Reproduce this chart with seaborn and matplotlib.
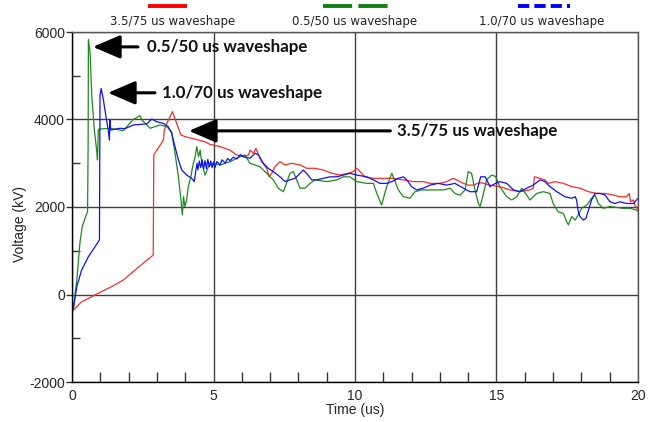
import numpy as np
import pandas as pd
import matplotlib
matplotlib.use('Agg')
import matplotlib.pyplot as plt
from matplotlib.lines import Line2D
from matplotlib.ticker import MultipleLocator
import seaborn as sns

# waveform data (time in us, voltage in kV)
t_red = [0, 0.05, 0.34, 0.58, 0.93, 1.40, 1.81, 2.23, 2.58, 2.87, 2.89, 3.23, 3.26, 3.35,
         3.55, 3.70, 3.85, 3.99, 4.23, 4.47, 4.70, 4.88, 5.23, 5.58, 5.82, 6.05, 6.24, 6.29,
         6.41, 6.50, 6.59, 6.70, 6.88, 6.97, 7.06, 7.17, 7.35, 7.53, 7.76, 8.06, 8.29, 8.59,
         8.88, 9.18, 9.47, 9.76, 9.94, 10.06, 10.18, 10.35, 10.65, 11.00, 11.36, 11.71, 12.06,
         12.41, 12.65, 13.00, 13.24, 13.47, 13.59, 13.83, 14.00, 14.18, 14.42, 14.77, 15.12,
         15.48, 15.83, 16.18, 16.30, 16.34, 16.54, 16.71, 16.83, 17.07, 17.36, 17.66, 17.95,
         18.25, 18.54, 18.83, 19.13, 19.36, 19.60, 19.69, 19.74, 19.84, 19.89, 20.0]
v_red = [-400, -355, -165, -90, 30, 180, 330, 560, 750, 900, 3190, 3530, 3760, 3910,
         4180, 3910, 3645, 3610, 3570, 3530, 3490, 3430, 3380, 3300, 3190, 3150, 3190, 3300,
         3230, 3340, 3190, 3035, 2885, 2690, 2770, 2920, 3035, 2960, 3000, 2960, 2885, 2885,
         2845, 2770, 2730, 2770, 2810, 2885, 2810, 2690, 2655, 2655, 2655, 2620, 2580,
         2580, 2540, 2540, 2580, 2655, 2620, 2540, 2500, 2500, 2560, 2500, 2465,
         2390, 2350, 2390, 2430, 2690, 2655, 2620, 2540, 2580, 2540, 2465, 2430,
         2350, 2310, 2310, 2275, 2235, 2235, 2310, 2120, 2160, 2045, 1930]

t_green = [0, 0.05, 0.17, 0.28, 0.36, 0.48, 0.55, 0.57, 0.58, 0.64, 0.70, 0.79, 0.87, 0.90,
           0.93, 0.95, 1.34, 1.81, 2.15, 2.40, 2.47, 2.76, 3.11, 3.35, 3.46, 3.52, 3.64, 3.76,
           3.85, 3.90, 3.94, 3.99, 4.05, 4.11, 4.20, 4.26, 4.35, 4.41, 4.47, 4.53, 4.58, 4.70,
           4.82, 4.99, 5.23, 5.58, 5.94, 6.10, 6.29, 6.64, 6.88, 7.11, 7.29, 7.47, 7.60, 7.70,
           7.82, 7.94, 8.06, 8.24, 8.41, 8.59, 9.00, 9.36, 9.59, 9.82, 10.06, 10.41, 10.65,
           10.77, 10.94, 11.12, 11.30, 11.42, 11.53, 11.71, 11.94, 12.12, 12.36, 12.60, 12.89,
           13.13, 13.36, 13.53, 13.71, 13.89, 14.00, 14.12, 14.24, 14.36, 14.42, 14.54, 14.65,
           14.83, 14.96, 15.12, 15.36, 15.54, 15.72, 15.89, 16.07, 16.18, 16.42, 16.65, 16.89,
           17.00, 17.18, 17.36, 17.48, 17.54, 17.66, 17.78, 17.89, 18.01, 18.19, 18.36, 18.48,
           18.60, 18.77, 19.01, 19.25, 19.48, 19.72, 19.95, 20.0]
v_green = [-400, -310, 330, 1180, 1550, 1780, 1890, 3500, 5830, 5520, 4520, 3760, 3300, 3075,
           3760, 3780, 3800, 3745, 3990, 4090, 3990, 3800, 3875, 3835, 3760, 3720, 3230, 2690,
           2160, 1820, 2235, 2010, 2160, 2465, 2690, 2920, 3150, 3380, 3150, 3300, 3035, 2730,
           2920, 3000, 2960, 3035, 3150, 3190, 3000, 2920, 2770, 2620, 2430, 2350, 2580, 2770,
           2810, 2620, 2430, 2430, 2540, 2620, 2580, 2620, 2690, 2690, 2580, 2540, 2540,
           2310, 2045, 2465, 2770, 2580, 2390, 2235, 2200, 2350, 2390, 2390, 2390,
           2390, 2430, 2310, 2270, 2390, 2810, 2770, 2390, 2080, 2010, 2310, 2620,
           2730, 2700, 2465, 2235, 2160, 2235, 2430, 2270, 2160, 2310, 2350, 2310,
           2080, 1890, 1855, 1665, 1590, 1780, 1700, 1820, 1970, 2045, 2200, 2275,
           2080, 1970, 2010, 1990, 1970, 1970, 1930, 1900]

t_blue = [0, 0.05, 0.17, 0.34, 0.58, 0.81, 0.97, 0.99, 1.03, 1.11, 1.20, 1.28, 1.32, 1.34,
          1.37, 1.70, 1.87, 2.17, 2.64, 2.82, 2.99, 3.23, 3.40, 3.52, 3.64, 3.76, 3.88, 4.05,
          4.23, 4.32, 4.38, 4.42, 4.45, 4.50, 4.55, 4.60, 4.65, 4.70, 4.75, 4.80, 4.85, 4.90,
          4.95, 5.00, 5.05, 5.12, 5.23, 5.30, 5.41, 5.50, 5.58, 5.70, 5.82, 5.95, 6.05, 6.29,
          6.47, 6.59, 6.76, 6.94, 7.11, 7.35, 7.53, 7.70, 7.88, 8.00, 8.17, 8.29, 8.47, 8.65,
          8.88, 9.12, 9.36, 9.59, 9.82, 10.06, 10.41, 10.65, 10.88, 11.12, 11.30, 11.53, 11.71,
          11.83, 12.00, 12.18, 12.42, 12.65, 12.94, 13.24, 13.53, 13.83, 14.06, 14.30, 14.44,
          14.60, 14.77, 14.96, 15.12, 15.36, 15.60, 15.83, 16.07, 16.30, 16.54, 16.71, 16.89,
          17.13, 17.42, 17.66, 17.78, 17.83, 17.89, 17.95, 18.07, 18.16, 18.25, 18.36, 18.48,
          18.66, 18.83, 19.01, 19.19, 19.36, 19.60, 19.84, 20.0]
v_blue = [-400, -310, 180, 560, 865, 1090, 1245, 4550, 4710, 4450, 4065, 3760, 3530, 3990,
          3760, 3800, 3790, 3875, 3900, 4010, 3950, 3910, 3835, 3685, 3380, 3075, 2845, 2730,
          2655, 2580, 2845, 3000, 2850, 3050, 2900, 3080, 2870, 3060, 2880, 3090, 2920, 3050,
          2900, 3030, 2900, 3040, 2960, 3080, 3000, 3110, 3060, 3140, 3100, 3200, 3150, 3115,
          3230, 3190, 3000, 2880, 2810, 2690, 2580, 2620, 2655, 2730, 2845, 2770, 2620, 2620,
          2655, 2690, 2690, 2730, 2770, 2730, 2690, 2620, 2540, 2540, 2580, 2655, 2690,
          2620, 2465, 2390, 2430, 2500, 2540, 2500, 2540, 2430, 2350, 2350, 2690,
          2690, 2465, 2540, 2580, 2540, 2390, 2350, 2430, 2500, 2620, 2580, 2465,
          2350, 2235, 2200, 2235, 2160, 1890, 1780, 1700, 1740, 1930, 2160, 2310,
          2310, 2275, 2120, 2080, 2120, 2080, 2080, 2200]

labels = ['3.5/75 us waveshape', '0.5/50 us waveshape', '1.0/70 us waveshape']
line_colors = ['#ff2a2a', '#1f8a1f', '#1010ff']
legend_colors = ['#ff0000', '#108010', '#0000ff']

df = pd.concat([
    pd.DataFrame({'Time': t_red, 'Voltage': v_red, 'wave': labels[0]}),
    pd.DataFrame({'Time': t_green, 'Voltage': v_green, 'wave': labels[1]}),
    pd.DataFrame({'Time': t_blue, 'Voltage': v_blue, 'wave': labels[2]}),
], ignore_index=True)

sns.set_style('white')
plt.rcParams['font.family'] = ['Liberation Sans', 'DejaVu Sans']
plt.rcParams['axes.unicode_minus'] = False

fig = plt.figure(figsize=(6.63, 4.22), dpi=100)
ax = fig.add_axes([72 / 663, 1 - 382 / 422, 566 / 663, 350 / 422])

sns.lineplot(data=df, x='Time', y='Voltage', hue='wave', palette=line_colors,
             hue_order=labels, estimator=None, sort=False, legend=False,
             linewidth=0.9, ax=ax)

ax.set_xlim(0, 20)
ax.set_ylim(-2000, 6000)
ax.set_xticks([0, 5, 10, 15, 20])
ax.set_yticks([-2000, 0, 2000, 4000, 6000])
ax.xaxis.set_minor_locator(MultipleLocator(1))
ax.yaxis.set_minor_locator(MultipleLocator(1000))
ax.tick_params(axis='x', which='major', bottom=True, length=0, pad=5, labelsize=10)
ax.tick_params(axis='x', which='minor', bottom=True, direction='in', length=7, width=1,
               color='#333333')
ax.tick_params(axis='y', which='major', left=True, direction='out', length=4, width=1,
               pad=1, labelsize=10, color='#333333')
ax.tick_params(axis='y', which='minor', left=True, direction='in', length=6, width=1,
               color='#333333')
ax.grid(which='major', color='#404040', linewidth=1.0)
for side in ['top', 'right']:
    ax.spines[side].set_color('#555555')
for side in ['left', 'bottom']:
    ax.spines[side].set_color('black')
for s in ax.spines.values():
    s.set_linewidth(1.0)

ax.set_xlabel('Time (us)', fontsize=10, labelpad=0)
ax.set_ylabel('Voltage (kV)', fontsize=10)
ax.yaxis.set_label_coords(-0.08, 0.45)

# annotations with arrows
bold = dict(fontsize=12.2, fontweight='bold', family='Lato', color='#111111', va='center', ha='left')
arrow = dict(arrowstyle='-|>,head_length=1.4,head_width=0.6', color='black', lw=2.2,
             shrinkA=0, shrinkB=0, mutation_scale=12)
ax.annotate('', xy=(0.74, 5660), xytext=(2.33, 5660), arrowprops=arrow)
ax.text(2.65, 5660, '0.5/50 us waveshape', **bold)
ax.annotate('', xy=(1.27, 4610), xytext=(2.93, 4610), arrowprops=arrow)
ax.text(3.18, 4610, '1.0/70 us waveshape', **bold)
ax.annotate('', xy=(4.13, 3740), xytext=(11.25, 3740), arrowprops=arrow)
ax.text(11.48, 3740, '3.5/75 us waveshape', **bold)

# legend above the plot: line sample over label
W, H = 663, 422
samples = [
    (148, 187, '-'),
    (323, 389, (0, (7.5, 1.6))),
    (518, 570, (0, (2.9, 1.3))),
]
text_x = [173, 355, 542]
for (x0, x1, ls), c, lab, tx in zip(samples, legend_colors, labels, text_x):
    fig.add_artist(Line2D([x0 / W, x1 / W], [1 - 6.3 / H, 1 - 6.3 / H], color=c, lw=2.8,
                          linestyle=ls, solid_capstyle='butt', dash_capstyle='butt',
                          transform=fig.transFigure))
    fig.text(tx / W, 1 - 21 / H, lab, ha='center', va='center', fontsize=8.5,
             family='DejaVu Sans', color='#222222')

fig.savefig('out.png', dpi=100)
